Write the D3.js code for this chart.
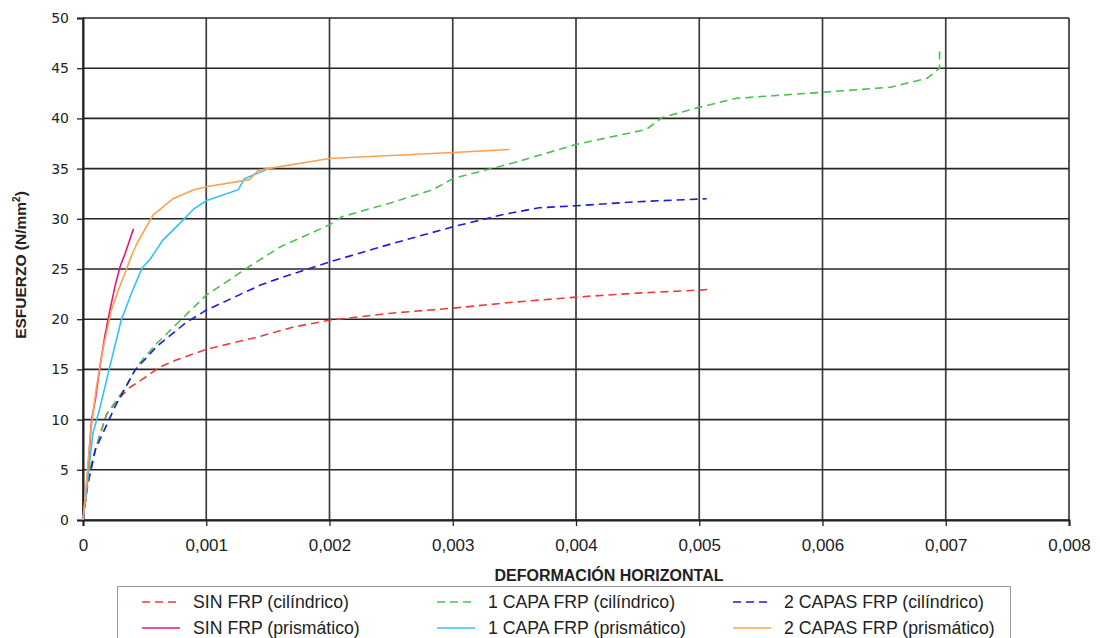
<!DOCTYPE html>
<html>
<head>
<meta charset="utf-8">
<script src="https://cdn.jsdelivr.net/npm/d3@7"></script>
<style>
  html, body { margin: 0; padding: 0; background: #fff; }
  svg { display: block; }
  text { font-family: "Liberation Sans", Arial, sans-serif; fill: #222; }
</style>
</head>
<body>
<svg id="chart" width="1100" height="638"></svg>
<script>
// Stress-strain curves: [horizontal strain, stress N/mm²]
const sinCil = [[0,0],[0.00003,3],[0.0001,7],[0.00019,10.5],[0.00029,12.1],[0.00038,13.2],[0.00048,14],[0.00062,15.2],[0.00075,15.9],[0.001,17],[0.00144,18.3],[0.0017,19.2],[0.002,19.9],[0.0025,20.6],[0.003,21.1],[0.0035,21.7],[0.004,22.2],[0.0045,22.6],[0.005,22.9],[0.0051,23]];
const unaCil = [[0,0],[0.00004,4.3],[0.0001,7],[0.00019,10.5],[0.00035,13.3],[0.00045,15.5],[0.0006,17.6],[0.0008,20],[0.001,22.4],[0.0012,24],[0.00133,25.1],[0.0016,27.2],[0.002,29.4],[0.0021,30.2],[0.0025,31.6],[0.00284,32.9],[0.003,34],[0.0035,35.6],[0.004,37.4],[0.00457,38.9],[0.0047,40.1],[0.005,41.1],[0.0053,42],[0.006,42.6],[0.00655,43.1],[0.00685,44],[0.00695,45],[0.00695,47]];
const dosCil = [[0,0],[0.00004,3.7],[0.0001,7],[0.00026,11.3],[0.00042,14.9],[0.0006,17.3],[0.00084,19.7],[0.001,20.9],[0.00144,23.4],[0.0016,24.1],[0.002,25.7],[0.0025,27.5],[0.003,29.2],[0.0034,30.4],[0.0037,31.1],[0.004,31.3],[0.0045,31.7],[0.00506,32]];
const sinPri = [[0,0],[0.00002,2],[0.00004,5],[0.00007,10],[0.0001,12],[0.00014,15.5],[0.00018,18.5],[0.00022,21],[0.00026,23.3],[0.0003,25.2],[0.00034,26.5],[0.00041,29]];
const unaPri = [[0,0],[0.00003,3],[0.00008,8.6],[0.00014,11.3],[0.00021,14.9],[0.00031,19.9],[0.0004,22.8],[0.00048,25.1],[0.00054,25.9],[0.00065,27.9],[0.00079,29.6],[0.0009,31],[0.001,31.8],[0.00126,32.9],[0.00131,34],[0.00149,34.9]];
const dosPri = [[0,0],[0.00003,4],[0.00006,8.6],[0.00011,13.3],[0.00016,16.9],[0.00023,20.9],[0.00029,23],[0.00035,24.9],[0.0004,26.5],[0.00044,27.6],[0.00057,30.4],[0.00062,30.9],[0.00073,32],[0.0009,32.9],[0.001,33.2],[0.00135,33.9],[0.00142,34.8],[0.0015,35],[0.002,36],[0.003,36.6],[0.00346,36.9]];

const seriesNames = ["SIN FRP (cilíndrico)","1 CAPA FRP (cilíndrico)","2 CAPAS FRP (cilíndrico)","SIN FRP (prismático)","1 CAPA FRP (prismático)","2 CAPAS FRP (prismático)"];
const seriesData = [sinCil, unaCil, dosCil, sinPri, unaPri, dosPri];
const seriesColors = ["#ee3b3b","#4cc24c","#1c1cd6","#e8147a","#33c4f4","#ffa050"];
const seriesDashed = [true, true, true, false, false, false];

const xTicks = [0,0.001,0.002,0.003,0.004,0.005,0.006,0.007,0.008];
const yTicks = [0,5,10,15,20,25,30,35,40,45,50];

const svg = d3.select("#chart");
const x = d3.scaleLinear().domain([0, 0.008]).range([83, 1069]);
const y = d3.scaleLinear().domain([0, 50]).range([520, 18]);

// grid
const grid = svg.append("g");
grid.selectAll("line.gx").data(xTicks).join("line")
  .attr("x1", d => x(d)).attr("x2", d => x(d))
  .attr("y1", y(50)).attr("y2", y(0))
  .attr("stroke", "#3c3c3c").attr("stroke-width", 1.7);
grid.selectAll("line.gy").data(yTicks).join("line")
  .attr("x1", x(0)).attr("x2", x(0.008))
  .attr("y1", d => y(d)).attr("y2", d => y(d))
  .attr("stroke", "#262626").attr("stroke-width", 1.6);

// axes
const fmtX = d => d === 0 ? "0" : d3.format(".3f")(d).replace(".", ",");
const xAxis = svg.append("g").attr("transform", `translate(0,${y(0)})`)
  .call(d3.axisBottom(x).tickValues(xTicks).tickFormat(fmtX).tickSize(6).tickPadding(13));
const yAxis = svg.append("g").attr("transform", `translate(${x(0)},0)`)
  .call(d3.axisLeft(y).tickValues(yTicks).tickSize(6).tickPadding(8));
[xAxis, yAxis].forEach(a => {
  a.select(".domain").attr("stroke", "#222").attr("stroke-width", 2);
  a.selectAll(".tick line").attr("stroke", "#222").attr("stroke-width", 1.3);
  a.selectAll(".tick text").attr("fill", "#222");
});
yAxis.selectAll(".tick text").style("font-family", "'DejaVu Sans', Verdana, sans-serif").style("font-size", "14px");
xAxis.selectAll(".tick text").style("font-family", "'Liberation Sans', Arial, sans-serif").style("font-size", "17px");

// titles
svg.append("text").attr("x", 609).attr("y", 581).attr("text-anchor", "middle")
  .style("font-size", "16px").style("font-weight", "bold").text("DEFORMACIÓN HORIZONTAL");
const yt = svg.append("text").attr("transform", "translate(26,265) rotate(-90)").attr("text-anchor", "middle")
  .style("font-size", "15.5px").style("font-weight", "bold");
yt.append("tspan").text("ESFUERZO (N/mm");
yt.append("tspan").attr("dy", -6).style("font-size", "10px").text("2");
yt.append("tspan").attr("dy", 6).text(")");

// curves
const line = d3.line().x(d => x(d[0])).y(d => y(d[1]));
svg.append("g").selectAll("path").data(seriesData).join("path")
  .attr("d", line)
  .attr("fill", "none")
  .attr("stroke", (d, i) => seriesColors[i])
  .attr("stroke-width", 1.6)
  .attr("stroke-dasharray", (d, i) => seriesDashed[i] ? "8,5" : null);

// legend
const lg = svg.append("g");
lg.append("rect").attr("x", 117.5).attr("y", 586.5).attr("width", 893).attr("height", 60)
  .attr("fill", "#fff").attr("stroke", "#9a9a9a").attr("stroke-width", 1);
const colX = [142, 437, 733];
const rowY = [602, 628];
seriesNames.forEach((name, i) => {
  const cx = colX[i % 3], cy = rowY[Math.floor(i / 3)];
  lg.append("line").attr("x1", cx).attr("x2", cx + 38).attr("y1", cy).attr("y2", cy)
    .attr("stroke", seriesColors[i]).attr("stroke-width", 1.6)
    .attr("stroke-dasharray", seriesDashed[i] ? "8,5" : null);
  lg.append("text").attr("x", cx + 51).attr("y", cy + 6).style("font-size", "17.7px").text(name);
});
</script>
</body>
</html>
